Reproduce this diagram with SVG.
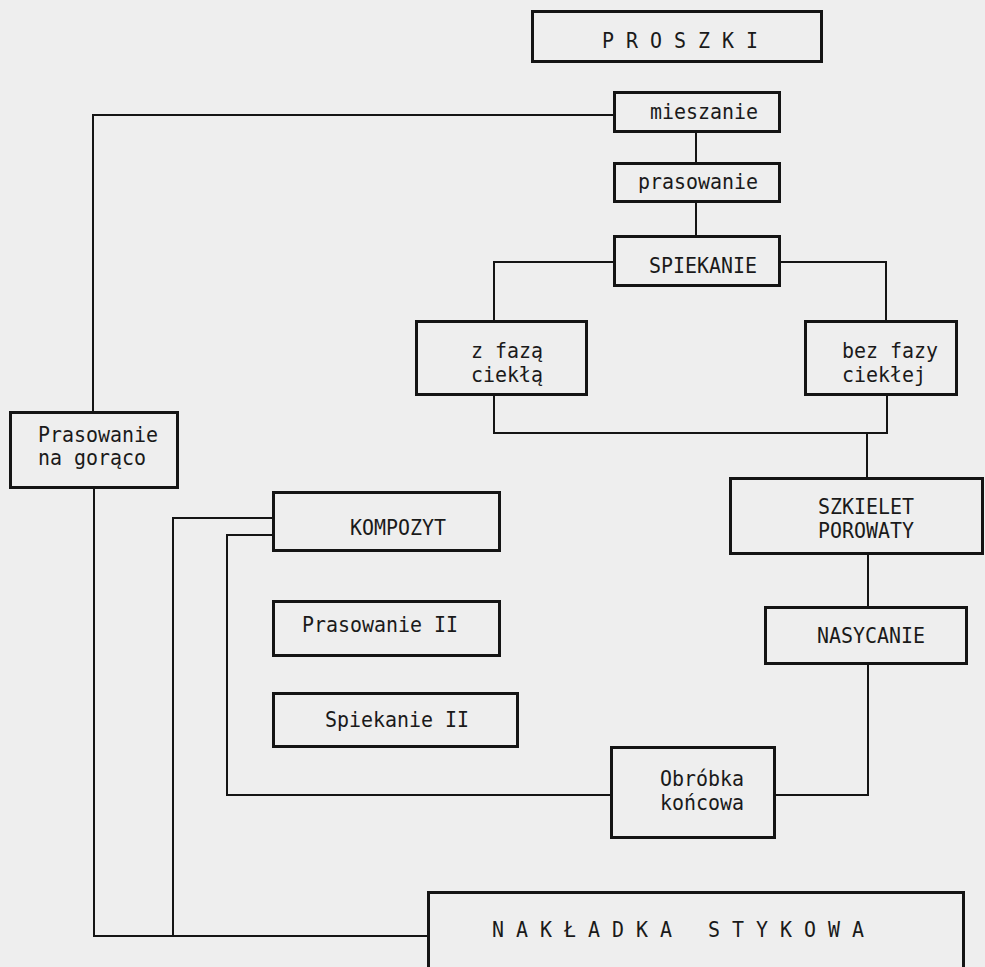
<svg xmlns="http://www.w3.org/2000/svg" width="985" height="967" viewBox="0 0 985 967">
<style>
.box{fill:none;stroke:#141414;stroke-width:3}
.con{fill:none;stroke:#141414;stroke-width:2}
text{font-family:"DejaVu Sans Mono","Liberation Mono",monospace;font-size:22px;fill:#1a1a1a}
.pre{white-space:pre}
</style>
<rect x="0" y="0" width="985" height="967" fill="#eeeeee"/>
<g id="connectors">
<polyline class="con" points="613,115 93,115 93,411"/>
<line class="con" x1="696" y1="133" x2="696" y2="162"/>
<line class="con" x1="696" y1="203" x2="696" y2="235"/>
<polyline class="con" points="613,262 494,262 494,320"/>
<polyline class="con" points="781,262 886,262 886,320"/>
<polyline class="con" points="494,396 494,433 887,433 887,396"/>
<line class="con" x1="867" y1="433" x2="867" y2="477"/>
<line class="con" x1="868" y1="555" x2="868" y2="606"/>
<polyline class="con" points="868,665 868,795 776,795"/>
<polyline class="con" points="610,795 227,795 227,535 272,535"/>
<polyline class="con" points="272,518 173,518 173,936"/>
<polyline class="con" points="94,489 94,936 427,936"/>
</g>
<g id="proszki"><rect class="box" x="532.5" y="11.5" width="289" height="50"/><text x="602" y="48" textLength="156" lengthAdjust="spacingAndGlyphs">P R O S Z K I</text></g>
<g id="mieszanie"><rect class="box" x="614.5" y="92.5" width="165" height="39"/><text x="650" y="119" textLength="108" lengthAdjust="spacingAndGlyphs">mieszanie</text></g>
<g id="prasowanie"><rect class="box" x="614.5" y="163.5" width="165" height="38"/><text x="638" y="189" textLength="120" lengthAdjust="spacingAndGlyphs">prasowanie</text></g>
<g id="spiekanie"><rect class="box" x="614.5" y="236.5" width="165" height="49"/><text x="649" y="273" textLength="108" lengthAdjust="spacingAndGlyphs">SPIEKANIE</text></g>
<g id="z-faza"><rect class="box" x="416.5" y="321.5" width="170" height="73"/><text x="471" y="358" textLength="72" lengthAdjust="spacingAndGlyphs">z fazą</text><text x="471" y="382" textLength="72" lengthAdjust="spacingAndGlyphs">ciekłą</text></g>
<g id="bez-fazy"><rect class="box" x="805.5" y="321.5" width="151" height="73"/><text x="842" y="358" textLength="96" lengthAdjust="spacingAndGlyphs">bez fazy</text><text x="842" y="382" textLength="84" lengthAdjust="spacingAndGlyphs">ciekłej</text></g>
<g id="prasowanie-na-goraco"><rect class="box" x="10.5" y="412.5" width="167" height="75"/><text x="38" y="442" textLength="120" lengthAdjust="spacingAndGlyphs">Prasowanie</text><text x="38" y="465" textLength="108" lengthAdjust="spacingAndGlyphs">na gorąco</text></g>
<g id="kompozyt"><rect class="box" x="273.5" y="492.5" width="226" height="58"/><text x="350" y="535" textLength="96" lengthAdjust="spacingAndGlyphs">KOMPOZYT</text></g>
<g id="prasowanie-ii"><rect class="box" x="273.5" y="601.5" width="226" height="54"/><text x="302" y="632" textLength="156" lengthAdjust="spacingAndGlyphs">Prasowanie II</text></g>
<g id="spiekanie-ii"><rect class="box" x="273.5" y="693.5" width="244" height="53"/><text x="325" y="727" textLength="144" lengthAdjust="spacingAndGlyphs">Spiekanie II</text></g>
<g id="szkielet"><rect class="box" x="730.5" y="478.5" width="252" height="75"/><text x="818" y="514" textLength="96" lengthAdjust="spacingAndGlyphs">SZKIELET</text><text x="818" y="538" textLength="96" lengthAdjust="spacingAndGlyphs">POROWATY</text></g>
<g id="nasycanie"><rect class="box" x="765.5" y="607.5" width="201" height="56"/><text x="817" y="643" textLength="108" lengthAdjust="spacingAndGlyphs">NASYCANIE</text></g>
<g id="obrobka"><rect class="box" x="611.5" y="747.5" width="163" height="90"/><text x="660" y="786" textLength="84" lengthAdjust="spacingAndGlyphs">Obróbka</text><text x="660" y="810" textLength="84" lengthAdjust="spacingAndGlyphs">końcowa</text></g>
<g id="nakladka"><rect class="box" x="428.5" y="892.5" width="535" height="100"/><text class="pre" x="492" y="937" textLength="372" lengthAdjust="spacingAndGlyphs" xml:space="preserve">N A K Ł A D K A   S T Y K O W A</text></g>
</svg>
